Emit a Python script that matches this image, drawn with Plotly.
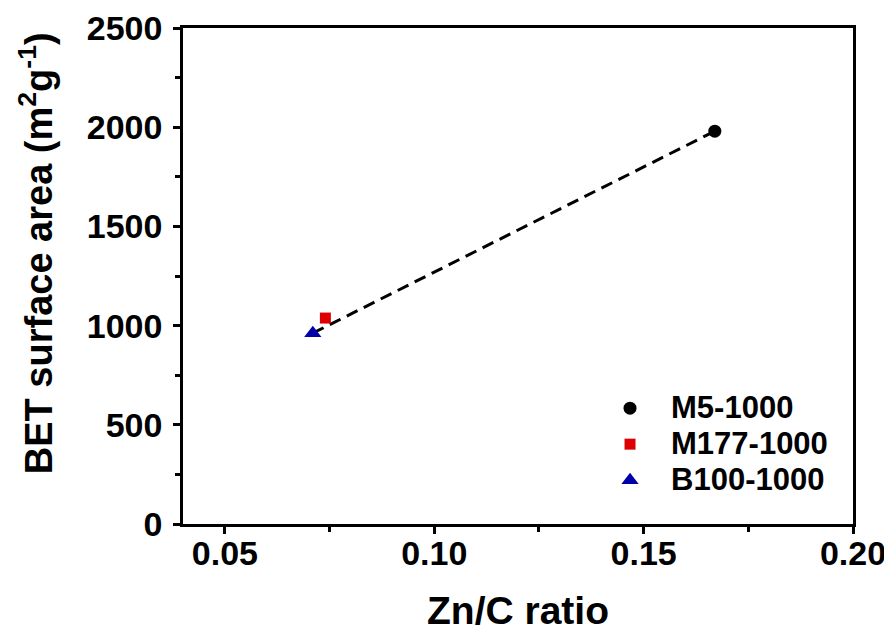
import plotly.graph_objects as go

names = ["M5-1000", "M177-1000", "B100-1000"]
zn_c = [0.167, 0.074, 0.071]
bet = [1980, 1038, 962]
colors = ["#000000", "#dd0000", "#0000aa"]
symbols = ["circle", "square", "triangle-up"]
sizes = [13, 11, 15]

fit_x = [0.071, 0.167]
fit_y = [962, 1980]

x_ticks = [0.05, 0.10, 0.15, 0.20]
x_ticklabels = ["0.05", "0.10", "0.15", "0.20"]
y_ticks = [0, 500, 1000, 1500, 2000, 2500]

FONT = "Liberation Sans"

fig = go.Figure()
fig.add_trace(go.Scatter(x=fit_x, y=fit_y, mode="lines",
                         line=dict(color="black", width=3, dash="12px,7px"),
                         showlegend=False, hoverinfo="skip"))
for i in range(3):
    fig.add_trace(go.Scatter(x=[zn_c[i]], y=[bet[i]], mode="markers",
                             name='<span style="font-size:31px">' + names[i] + '</span>',
                             marker=dict(color=colors[i], symbol=symbols[i], size=sizes[i],
                                         line=dict(width=0))))

axis_common = dict(showline=True, linecolor="black", linewidth=2.5, mirror=True,
                   ticks="outside", tickwidth=2.5, ticklen=7, tickcolor="black",
                   showgrid=False, zeroline=False, ticklabeloverflow="allow",
                   automargin=False,
                   tickfont=dict(family=FONT, size=34, color="black", weight="bold"))

fig.update_layout(
    width=892, height=636,
    margin=dict(l=175, r=47, t=20, b=120),
    paper_bgcolor="white", plot_bgcolor="white",
    font=dict(family=FONT, color="black"),
    xaxis=dict(range=[0.04, 0.20], tickvals=x_ticks, ticktext=x_ticklabels,
               ticklabelstandoff=-10,
               minor=dict(ticks="outside", dtick=0.025, tick0=0.025, ticklen=5,
                          tickwidth=2.5, tickcolor="black"),
               title=dict(text="<b>Zn/C ratio</b>", standoff=27,
                          font=dict(family=FONT, size=39, color="black")),
               **axis_common),
    yaxis=dict(range=[0, 2500], tickvals=y_ticks,
               ticklabelstandoff=4,
               minor=dict(ticks="outside", dtick=250, tick0=0, ticklen=5,
                          tickwidth=2.5, tickcolor="black"),
               **axis_common),
    legend=dict(x=0.606, y=0.28, xanchor="left", yanchor="top",
                bgcolor="rgba(0,0,0,0)", borderwidth=0, itemwidth=72,
                font=dict(family=FONT, size=25.4, color="black", weight="bold")),
    annotations=[dict(text="<b>BET surface area (m<sup>2</sup>g<sup>-1</sup>)</b>",
                      textangle=-90, xref="paper", yref="paper",
                      x=-0.2194, y=0.546, xanchor="center", yanchor="middle",
                      showarrow=False,
                      font=dict(family=FONT, size=38, color="black"))],
)

fig.write_html("out.html")
